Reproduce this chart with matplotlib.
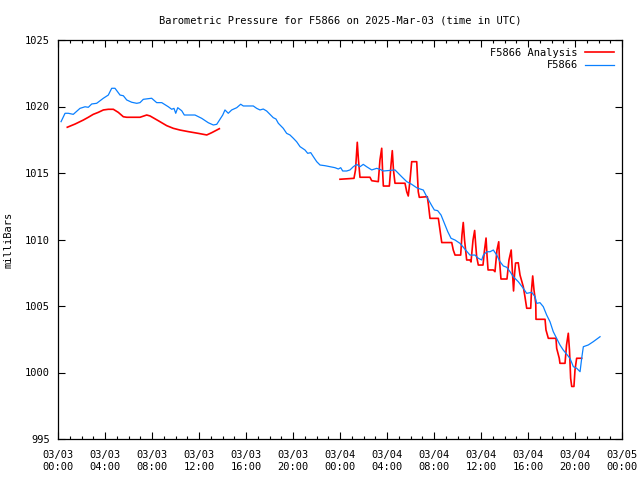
import numpy as np
import pandas as pd
import matplotlib
matplotlib.use('Agg')
import matplotlib.pyplot as plt
import matplotlib.dates as mdates

plt.rcParams['font.family'] = 'DejaVu Sans Mono'
plt.rcParams['font.size'] = 7.5

start = pd.Timestamp('2025-03-03 00:00')

# station obs, hours after 03/03 00:00 UTC
obs_hours = [0.26, 0.60, 0.88, 1.30, 1.87, 2.30, 2.58, 2.87, 3.29, 3.86, 4.28, 4.57, 4.85, 5.28,
             5.56, 5.85, 6.27, 6.70, 6.98, 7.26, 7.97, 8.40, 8.83, 9.39, 9.68, 9.87, 10.02, 10.19,
             10.53, 10.75, 11.66, 12.23, 12.79, 13.22, 13.51, 13.79, 14.02, 14.21, 14.49, 14.78,
             15.21, 15.55, 15.77, 16.62, 16.91, 17.19, 17.47, 17.76, 18.04, 18.32, 18.55, 18.75,
             19.17, 19.46, 19.74, 20.03, 20.31, 20.60, 21.02, 21.25, 21.51, 21.73, 22.02, 22.30,
             22.72, 23.15, 23.57, 23.86, 24.06, 24.23, 24.57, 24.85, 25.13, 25.42, 25.70, 25.98,
             26.27, 26.70, 27.12, 27.40, 27.69, 28.68, 28.96, 29.25, 29.68, 30.10, 30.53, 30.81,
             31.09, 31.38, 31.80, 32.03, 32.31, 32.60, 32.88, 33.17, 33.45, 33.79, 34.21, 34.64,
             35.06, 35.49, 35.77, 36.06, 36.20, 36.49, 36.77, 37.05, 37.34, 37.62, 37.90, 38.19,
             38.47, 38.75, 39.17, 39.60, 39.89, 40.31, 40.60, 40.74, 41.02, 41.30, 41.59, 41.87,
             42.15, 42.44, 42.72, 43.00, 43.29, 43.57, 43.86, 44.14, 44.43, 44.57, 44.71, 45.13,
             45.56, 46.13]
obs_mb = [1018.86, 1019.49, 1019.49, 1019.41, 1019.86, 1019.98, 1019.94, 1020.19, 1020.24, 1020.62,
          1020.86, 1021.37, 1021.37, 1020.86, 1020.81, 1020.49, 1020.32, 1020.24, 1020.29, 1020.54,
          1020.62, 1020.29, 1020.29, 1019.98, 1019.79, 1019.86, 1019.49, 1019.91, 1019.68, 1019.36,
          1019.36, 1019.11, 1018.78, 1018.61, 1018.66, 1019.04, 1019.36, 1019.74, 1019.49, 1019.74,
          1019.91, 1020.17, 1020.04, 1020.04, 1019.86, 1019.74, 1019.81, 1019.66, 1019.41, 1019.16,
          1019.06, 1018.74, 1018.36, 1017.98, 1017.86, 1017.61, 1017.35, 1016.98, 1016.73, 1016.48,
          1016.53, 1016.23, 1015.85, 1015.60, 1015.55, 1015.47, 1015.40, 1015.30, 1015.40, 1015.15,
          1015.15, 1015.23, 1015.47, 1015.65, 1015.47, 1015.65, 1015.47, 1015.23, 1015.35, 1015.28,
          1015.15, 1015.23, 1014.98, 1014.72, 1014.35, 1014.15, 1013.89, 1013.80, 1013.72, 1013.22,
          1012.56, 1012.22, 1012.17, 1011.84, 1011.22, 1010.59, 1010.09, 1009.96, 1009.71, 1009.26,
          1008.83, 1008.83, 1008.59, 1008.46, 1008.83, 1009.08, 1009.08, 1009.21, 1008.83, 1008.33,
          1008.01, 1007.91, 1007.58, 1007.20, 1006.83, 1006.33, 1005.95, 1006.03, 1005.70, 1005.20,
          1005.25, 1004.95, 1004.32, 1003.82, 1003.07, 1002.57, 1002.07, 1001.69, 1001.37, 1001.07,
          1000.44, 1000.32, 1000.06, 1001.07, 1001.94, 1002.07, 1002.32, 1002.69]

# analysis, NaN marks the data gap
ana_hours = [0.79, 1.45, 2.15, 2.58, 3.00, 3.43, 3.86, 4.28, 4.71, 5.13, 5.56, 5.85, 6.98, 7.55,
             7.83, 8.54, 9.25, 9.81, 10.38, 11.09, 11.94, 12.66, 13.08, 13.73, 18.0,
             24.00, 25.19, 25.32, 25.47, 25.57, 25.70, 26.55, 26.70, 27.26, 27.40, 27.55, 27.62,
             27.69, 28.20, 28.34, 28.45, 28.55, 28.68, 29.53, 29.68, 29.81, 29.96, 30.10, 30.53,
             30.66, 30.75, 31.43, 31.53, 31.66, 32.37, 32.51, 32.66, 33.51, 33.64, 33.79, 34.27,
             34.38, 34.49, 34.60, 34.78, 35.06, 35.15, 35.32, 35.46, 35.55, 35.63, 35.77, 36.17,
             36.30, 36.43, 36.51, 36.60, 37.05, 37.19, 37.36, 37.51, 37.57, 37.70, 38.21, 38.38,
             38.57, 38.64, 38.77, 38.85, 38.94, 39.17, 39.32, 39.60, 39.74, 39.89, 40.23, 40.30,
             40.40, 40.51, 40.66, 40.68, 41.45, 41.53, 41.73, 42.38, 42.44, 42.66, 42.72, 43.15,
             43.28, 43.43, 43.53, 43.63, 43.72, 43.91, 44.00, 44.14, 44.57]
ana_mb = [1018.44, 1018.68, 1018.98, 1019.19, 1019.41, 1019.56, 1019.74, 1019.79, 1019.79, 1019.56,
          1019.23, 1019.19, 1019.19, 1019.36, 1019.29, 1018.93, 1018.56, 1018.36, 1018.23, 1018.11,
          1017.98, 1017.86, 1018.03, 1018.33, np.nan,
          1014.53, 1014.60, 1015.23, 1017.31, 1015.98, 1014.68, 1014.68, 1014.42, 1014.35, 1015.98,
          1016.86, 1015.23, 1014.02, 1014.02, 1015.60, 1016.68, 1015.23, 1014.23, 1014.23, 1013.59,
          1013.27, 1014.47, 1015.85, 1015.85, 1013.59, 1013.17, 1013.22, 1012.59, 1011.59, 1011.59,
          1010.71, 1009.77, 1009.77, 1009.21, 1008.83, 1008.83, 1010.34, 1011.28, 1009.96, 1008.46,
          1008.46, 1008.31, 1009.96, 1010.68, 1009.59, 1008.71, 1008.08, 1008.08, 1009.21, 1010.11,
          1008.83, 1007.71, 1007.71, 1007.58, 1009.21, 1009.83, 1008.46, 1007.03, 1007.03, 1008.46,
          1009.21, 1008.08, 1006.13, 1007.33, 1008.23, 1008.25, 1007.33, 1006.45, 1005.70, 1004.83,
          1004.83, 1006.20, 1007.26, 1006.20, 1005.20, 1004.00, 1004.00, 1003.20, 1002.57, 1002.57,
          1001.82, 1001.07, 1000.69, 1000.69, 1002.07, 1002.95, 1001.69, 999.56, 998.95, 998.95,
          1000.19, 1001.07, 1001.07]

t_obs = start + pd.to_timedelta(obs_hours, unit='h')
t_ana = start + pd.to_timedelta(ana_hours, unit='h')

fig = plt.figure(figsize=(6.4, 4.8), dpi=100)
ax = fig.add_axes([58 / 640, 41 / 480, 564 / 640, 399 / 480])

ax.plot(t_ana, ana_mb, color='#ff0000', lw=1.2, label='F5866 Analysis')
ax.plot(t_obs, obs_mb, color='#0a80ff', lw=0.9, label='F5866')

ax.set_xlim(start, start + pd.Timedelta(hours=48))
ax.set_ylim(995, 1025)
ax.set_yticks(np.arange(995, 1026, 5))
ax.xaxis.set_major_locator(mdates.HourLocator(byhour=range(0, 24, 4)))
ax.xaxis.set_minor_locator(mdates.HourLocator())
ax.xaxis.set_major_formatter(mdates.DateFormatter('%m/%d\n%H:%M'))

ax.tick_params(which='both', direction='in', top=True, right=True, colors='black', labelsize=7.5)
ax.tick_params(which='major', length=5, width=0.8)
ax.tick_params(which='minor', length=2.5, width=0.8)
ax.tick_params(axis='x', which='major', pad=8)
ax.tick_params(axis='y', which='major', pad=6)
for s in ax.spines.values():
    s.set_linewidth(0.9)

ax.set_ylabel('milliBars', labelpad=8)
ax.set_title('Barometric Pressure for F5866 on 2025-Mar-03 (time in UTC)', fontsize=7.5, pad=12)

ax.legend(loc='upper right', frameon=False, markerfirst=False, handlelength=2.8,
          handletextpad=0.7, labelspacing=0.25, borderaxespad=0.25, borderpad=0.5,
          fontsize=7.5)

plt.savefig('out.png', dpi=100)
